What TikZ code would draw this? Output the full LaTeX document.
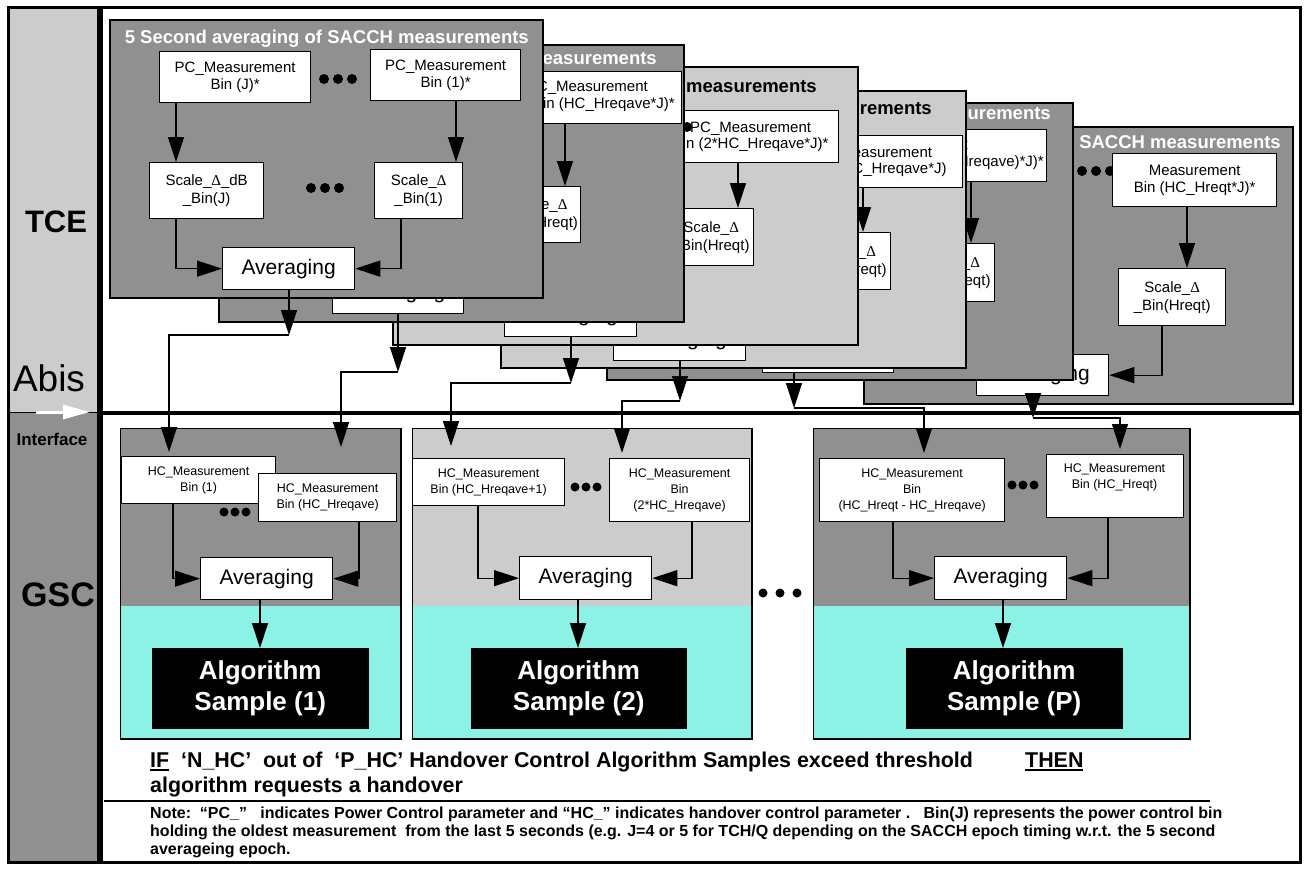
\documentclass[tikz,border=0pt]{standalone}
\usepackage{fontspec}
\setmainfont{Liberation Sans}
\newfontfamily\serifD{Liberation Serif}
\usetikzlibrary{arrows.meta}
\definecolor{dg}{RGB}{144,144,144}
\definecolor{lg}{RGB}{204,204,204}
\definecolor{cy}{RGB}{140,242,230}
\newcommand\D{{\serifD Δ}}
\newcommand\fs[2]{\fontsize{#1}{#2}\selectfont}
\newcommand\myul[1]{\setbox0\hbox{#1}\rlap{\rule[-3.5pt]{\wd0}{2pt}}\box0}
\newcommand\B[7]{\node[#2, anchor=north west, minimum width={(#5-#3)*1pt}, minimum height={(#6-#4)*1pt}] (#1) at (#3,#4) {#7};}
\tikzset{
 card/.style={draw=black, line width=1.5pt, inner sep=0pt},
 bx/.style={draw=black, fill=white, line width=1.3pt, inner sep=1pt, align=center, font=\fs{15}{16.5}},
 sbx/.style={bx, font=\fs{15}{18}},
 avg/.style={bx, font=\fs{21}{24}},
 hbx/.style={bx, font=\fs{12.5}{16}},
 alg/.style={fill=black, draw=black, text=white, inner sep=1pt, align=center, font=\bfseries\fs{26}{31}},
 arr/.style={line width=1.3pt, -{Triangle[length=25pt,width=16pt]}},
 ttl/.style={font=\bfseries\fs{18.5}{20}, anchor=base east, inner sep=0pt},
 dotb/.style={fill=black, circle, inner sep=0pt, minimum size=10pt},
 dots/.style={fill=black, circle, inner sep=0pt, minimum size=9pt},
 gbox/.style={draw=black, line width=1pt, inner sep=0pt},
 lbl/.style={inner sep=0pt},
 btxt/.style={lbl, anchor=base west, font=\bfseries\fs{21.4}{22}},
 ntxt/.style={lbl, anchor=base west, font=\bfseries\fs{16}{17}}
}
\begin{document}
\begin{tikzpicture}[x=1pt,y=-1pt]
\useasboundingbox (0,0) rectangle (1305,868);
\fill[white] (0,0) rectangle (1305,868);
% left column
\fill[lg] (8,7) rectangle (97,412);
\fill[dg] (8,412) rectangle (97,862);
\draw[line width=1pt] (8,412) -- (97,412);

% ---------- card 6 ----------
\B{c6}{card, fill=dg}{863}{126}{1292}{403}{}
\node[ttl, text=white] (c6t) at (1281,148.5) {5 Second averaging of SACCH measurements};
\node[dotb] (c6d1) at (1082,171) {};
\node[dotb] (c6d2) at (1096,171) {};
\node[dotb] (c6d3) at (1110,171) {};
\B{c6B}{bx}{1112}{153}{1276}{206}{Measurement\\Bin (HC\_Hreqt*J)*}
\B{c6S}{sbx}{1118}{268}{1225}{325}{Scale\_\D\\\_Bin(Hreqt)}
\B{c6A}{avg}{976}{354}{1108}{395}{Averaging}
\draw[arr] (1187,0 |- c6B.south) -- (1187,0 |- c6S.north);
\draw[arr] (1162,0 |- c6S.south) |- (c6A.east);

% ---------- card 5 ----------
\B{c5}{card, fill=dg}{606}{102}{1072}{379}{}
\node[ttl, text=white] (c5t) at (1051,119.5) {5 Second averaging of SACCH measurements};
\B{c5B}{bx}{840}{129}{1046}{181}{}
\node[lbl, anchor=east, font=\fs{15}{16.5}] (c5B1) at (968,146) {PC\_Measurement};
\node[lbl, anchor=east, font=\fs{15}{16.5}] (c5B2) at (1044,163) {Bin ((HC\_Hreqt-HC\_Hreqave)*J)*};
\B{c5S}{sbx}{909}{243}{994}{301}{Scale\_\D\\\_Bin(Hreqt)}
\B{c5A}{avg}{762}{330}{893}{372}{Averaging}
\draw[arr] (971,0 |- c5B.south) -- (971,0 |- c5S.north);

% ---------- card 4 ----------
\B{c4}{card, fill=lg}{500}{90}{965}{367}{}
\node[ttl, text=black] (c4t) at (932,114.5) {5 Second averaging of SACCH measurements};
\B{c4B}{bx}{780}{135}{962}{187}{PC\_Measurement\\Bin (3*HC\_Hreqave*J)}
\B{c4S}{sbx}{805}{232}{890}{289}{Scale\_\D\\\_Bin(Hreqt)}
\B{c4A}{avg}{613}{318}{745}{360}{Averaging}
\draw[arr] (863,0 |- c4B.south) -- (863,0 |- c4S.north);

% ---------- card 3 ----------
\B{c3}{card, fill=lg}{392}{66}{857}{344}{}
\node[ttl, text=black] (c3t) at (817,92.5) {5 Second averaging of SACCH measurements};
\B{c3B}{bx}{662}{110}{838}{162}{PC\_Measurement\\Bin (2*HC\_Hreqave*J)*}
\node[dotb] (c3d1) at (655,127) {};
\node[dotb] (c3d2) at (671,127) {};
\node[dotb] (c3d3) at (687,127) {};
\B{c3S}{sbx}{668}{208}{753}{265}{Scale\_\D\\\_Bin(Hreqt)}
\B{c3A}{avg}{504}{294}{636}{336}{Averaging}
\draw[arr] (738,0 |- c3B.south) -- (738,0 |- c3S.north);

% ---------- card 2 ----------
\B{c2}{card, fill=dg}{218}{44}{683}{321}{}
\node[ttl, text=white] (c2t) at (657,64.5) {5 Second averaging of SACCH measurements};
\B{c2B}{bx}{500}{71}{681}{123}{}
\node[lbl, anchor=east, font=\fs{15}{16.5}] (c2B1) at (648,88) {PC\_Measurement};
\node[lbl, anchor=east, font=\fs{15}{16.5}] (c2B2) at (675,105) {Bin (HC\_Hreqave*J)*};
\B{c2S}{sbx}{498}{186}{580}{242}{Scale\_\D\\\_Bin(Hreqt)}
\B{c2A}{avg}{332}{271}{463}{313}{Averaging}
\draw[arr] (565,0 |- c2B.south) -- (565,0 |- c2S.north);

% ---------- card 1 ----------
\B{c1}{card, fill=dg}{109}{19}{542}{297}{}
\node[ttl, text=white] (c1t) at (529,43) {5 Second averaging of SACCH measurements};
\B{c1J}{bx}{159}{51}{310}{102}{PC\_Measurement\\Bin (J)*}
\node[dotb] (c1d1) at (324,79) {};
\node[dotb] (c1d2) at (338,79) {};
\node[dotb] (c1d3) at (352,79) {};
\B{c1B1}{bx}{370}{49}{520}{100}{PC\_Measurement\\Bin (1)*}
\B{c1SJ}{sbx}{149}{162}{263}{218}{Scale\_\D\_dB\\\_Bin(J)}
\node[dotb] (c1e1) at (311,188) {};
\node[dotb] (c1e2) at (325,188) {};
\node[dotb] (c1e3) at (339,188) {};
\B{c1S1}{sbx}{374}{162}{462}{218}{Scale\_\D\\\_Bin(1)}
\B{c1A}{avg}{222}{247}{354}{289}{Averaging}
\draw[arr] (176,0 |- c1J.south) -- (176,0 |- c1SJ.north);
\draw[arr] (456,0 |- c1B1.south) -- (456,0 |- c1S1.north);
\draw[arr] (176,0 |- c1SJ.south) |- (c1A.west);
\draw[arr] (401,0 |- c1S1.south) |- (c1A.east);

% ---------- GSC boxes ----------
\B{g1}{gbox, fill=dg}{120}{428}{400}{738}{}
\fill[cy] (120,606) rectangle (400,738);
\draw[line width=1pt] (g1.north west) rectangle (g1.south east);
\B{g2}{gbox, fill=lg}{412}{428}{751}{738}{}
\fill[cy] (412,606) rectangle (751,738);
\draw[line width=1pt] (g2.north west) rectangle (g2.south east);
\B{g3}{gbox, fill=dg}{813}{428}{1189}{738}{}
\fill[cy] (813,606) rectangle (1189,738);
\draw[line width=1pt] (g3.north west) rectangle (g3.south east);

% box 1
\B{g1B1}{hbx}{121}{456}{275}{503}{HC\_Measurement\\Bin (1)}
\B{g1B2}{hbx}{258}{473}{396}{521}{HC\_Measurement\\Bin (HC\_Hreqave)}
\node[dots] (g1d1) at (224,512) {};
\node[dots] (g1d2) at (235,512) {};
\node[dots] (g1d3) at (246,512) {};
\B{g1A}{avg}{200}{557}{332}{599}{Averaging}
\B{g1Alg}{alg}{152}{648}{368}{728}{Algorithm\\Sample (1)}
\draw[arr] (173,0 |- g1B1.south) |- (g1A.west);
\draw[arr] (359,0 |- g1B2.south) |- (g1A.east);
\draw[arr] (260,0 |- g1A.south) -- (260,0 |- g1Alg.north);

% box 2
\B{g2B1}{hbx}{412}{458}{564}{505}{HC\_Measurement\\Bin (HC\_Hreqave+1)}
\node[dots] (g2d1) at (575,487) {};
\node[dots] (g2d2) at (586,487) {};
\node[dots] (g2d3) at (597,487) {};
\B{g2B2}{hbx}{609}{458}{749}{521}{HC\_Measurement\\Bin\\(2*HC\_Hreqave)}
\B{g2A}{avg}{519}{556}{651}{599}{Averaging}
\B{g2Alg}{alg}{471}{648}{686}{728}{Algorithm\\Sample (2)}
\draw[arr] (478,0 |- g2B1.south) |- (g2A.west);
\draw[arr] (692,0 |- g2B2.south) |- (g2A.east);
\draw[arr] (578,0 |- g2A.south) -- (578,0 |- g2Alg.north);

% dots between boxes
\node[dots] (md1) at (763,593) {};
\node[dots] (md2) at (780,593) {};
\node[dots] (md3) at (797,593) {};

% box 3
\B{g3B1}{hbx}{819}{458}{1004}{521}{HC\_Measurement\\Bin\\(HC\_Hreqt - HC\_Hreqave)}
\node[dots] (g3d1) at (1012,485) {};
\node[dots] (g3d2) at (1023,485) {};
\node[dots] (g3d3) at (1034,485) {};
\B{g3B2}{hbx}{1046}{454}{1183}{517}{}
\node[lbl, align=center, font=\fs{12.5}{16}] (g3B2t) at (1114.5,477) {HC\_Measurement\\Bin (HC\_Hreqt)};
\B{g3A}{avg}{934}{556}{1066}{599}{Averaging}
\B{g3Alg}{alg}{906}{648}{1122}{728}{Algorithm\\Sample (P)}
\draw[arr] (893,0 |- g3B1.south) |- (g3A.west);
\draw[arr] (1108,0 |- g3B2.south) |- (g3A.east);
\draw[arr] (1003,0 |- g3A.south) -- (1003,0 |- g3Alg.north);

% ---------- inter-layer connectors ----------
\coordinate (k1) at (289,335);
\coordinate (t11) at (169,452);
\coordinate (k2) at (398,372);
\coordinate (t12) at (341,447);
\coordinate (k3) at (571,383);
\coordinate (t21) at (451,446);
\coordinate (k4) at (680,401);
\coordinate (t22) at (622,453);
\coordinate (k5) at (794,408);
\coordinate (t31) at (924,453);
\coordinate (k6) at (1033,418);
\coordinate (t32) at (1120,449);
\draw[arr] (289,0 |- c1A.south) -- (k1);
\draw[arr] (k1) -| (t11);
\draw[arr] (398,0 |- c2A.south) -- (k2);
\draw[arr] (k2) -| (t12);
\draw[arr] (571,0 |- c3A.south) -- (k3);
\draw[arr] (k3) -| (t21);
\draw[arr] (680,0 |- c4A.south) -- (k4);
\draw[arr] (k4) -| (t22);
\draw[arr] (794,0 |- c5A.south) -- (k5);
\draw[arr] (k5) -| (t31);
\draw[arr] (1033,0 |- c6A.south) -- (k6);
\draw[arr] (k6) -| (t32);

% ---------- bottom texts ----------
\node[btxt] (ifl) at (150,767) {\myul{IF}\ \ ‘N\_HC’\ \ out of\ \ ‘P\_HC’ Handover Control Algorithm Samples exceed threshold};
\node[btxt] (thenl) at (1025,767) {\myul{THEN}};
\node[btxt] (algl) at (150,792) {algorithm requests a handover};
\coordinate (sepA) at (104,801);
\coordinate (sepB) at (1210,801);
\draw[line width=2pt] (sepA) -- (sepB);
\node[ntxt] (n1) at (150,818) {Note:\ \ “PC\_”\ \ \ indicates Power Control parameter and “HC\_” indicates handover control parameter .\ \ \ Bin(J) represents the power control bin};
\node[ntxt] (n2) at (150,836) {holding the oldest measurement\ \ from the last 5 seconds (e.g. J=4 or 5 for TCH/Q depending on the SACCH epoch timing w.r.t. the 5 second};
\node[ntxt] (n3) at (150,854) {averageing epoch.};

% ---------- frame ----------
\draw[line width=4pt] (103,413) -- (1300,413);
\draw[line width=6pt] (100,7) -- (100,862);
\draw[line width=3pt] (8,7) rectangle (1300,862);
\draw[white, line width=3pt, -{Triangle[length=27pt,width=14pt]}] (36,412) -- (90,412);

% left labels
\node[lbl, font=\bfseries\fs{31}{31}] (tce) at (56,222) {TCE};
\node[lbl, font=\fs{37}{37}] (abis) at (49,378) {Abis};
\node[lbl, font=\bfseries\fs{17}{17}] (intf) at (52,439) {Interface};
\node[lbl, font=\bfseries\fs{34}{34}] (gsc) at (58,595) {GSC};
\end{tikzpicture}
\end{document}
